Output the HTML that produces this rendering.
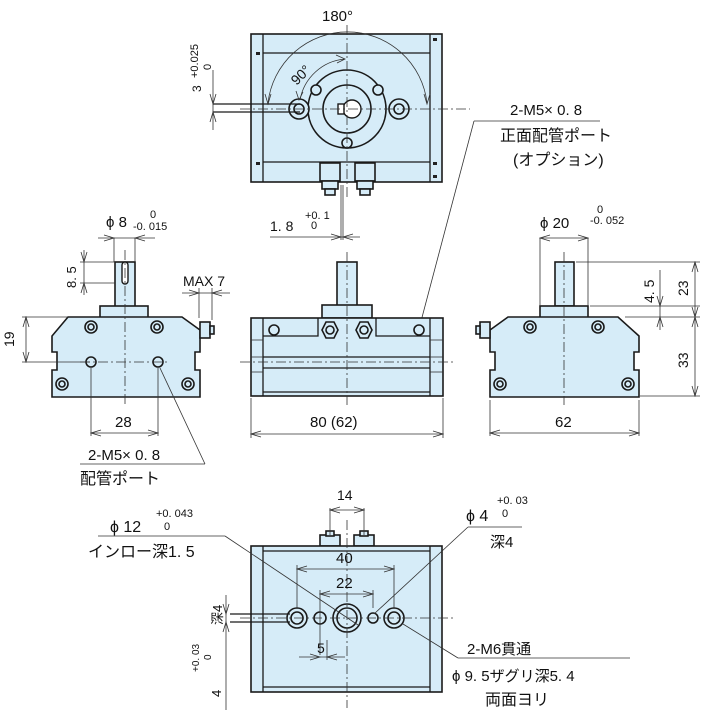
<!DOCTYPE html>
<html><head><meta charset="utf-8"><style>
html,body{margin:0;padding:0;background:#fff;}
svg{display:block;}
text{font-family:"Liberation Sans","Noto Sans CJK JP",sans-serif;fill:#111;}
.b{fill:#d6ecf8;stroke:#1a1a1a;stroke-width:1.6;}
.l{fill:none;stroke:#1a1a1a;stroke-width:1.3;}
.t{fill:none;stroke:#333;stroke-width:0.8;}
.d{fill:none;stroke:#333;stroke-width:0.8;marker-start:url(#a);marker-end:url(#a);}
.c{fill:none;stroke:#333;stroke-width:0.8;stroke-dasharray:10 3 2 3;}
.h{fill:#fff;stroke:#1a1a1a;stroke-width:1.4;}
</style></head><body>
<svg width="709" height="714" viewBox="0 0 709 714" xmlns="http://www.w3.org/2000/svg">
<defs>
<marker id="a" viewBox="-11 -4 12 8" refX="0" refY="0" markerWidth="12" markerHeight="8" orient="auto-start-reverse" markerUnits="userSpaceOnUse">
<path d="M-10,-3 L0,0 L-10,3" fill="none" stroke="#333" stroke-width="0.8"/></marker>
</defs>
<!-- ===== TOP VIEW ===== -->
<rect class="b" x="251" y="34" width="191" height="148"/>
<line class="l" x1="263" y1="34" x2="263" y2="182"/>
<line class="l" x1="430" y1="34" x2="430" y2="182"/>
<line class="l" x1="263" y1="53" x2="430" y2="53"/>
<line class="l" x1="263" y1="162" x2="430" y2="162"/>
<rect x="256" y="52" width="4" height="3" fill="#222"/><rect x="433" y="38" width="4" height="3" fill="#222"/>
<rect x="256" y="162" width="4" height="3" fill="#222"/><rect x="433" y="162" width="4" height="3" fill="#222"/>
<rect x="433" y="175" width="4" height="3" fill="#222"/>
<rect class="b" x="320" y="163" width="20" height="18"/><rect class="b" x="355" y="163" width="20" height="18"/>
<rect class="b" x="322" y="181" width="16" height="8"/><rect class="b" x="357" y="181" width="16" height="8"/>
<rect class="b" x="325" y="189" width="10" height="6"/><rect class="b" x="360" y="189" width="10" height="6"/>
<circle class="b" cx="347" cy="109" r="39"/>
<circle class="b" cx="347" cy="109" r="24"/>
<circle class="h" cx="352" cy="109" r="9"/>
<rect class="h" x="338" y="104" width="6" height="10"/>
<circle class="b" cx="299" cy="109" r="10"/><circle class="b" cx="299" cy="109" r="5"/>
<circle class="b" cx="399" cy="109" r="10"/><circle class="b" cx="399" cy="109" r="5"/>
<circle class="b" cx="316" cy="90" r="5"/><circle class="b" cx="378" cy="90" r="5"/><circle class="b" cx="347" cy="143" r="5"/>
<line class="c" x1="347" y1="25" x2="347" y2="200"/>
<line class="c" x1="240" y1="109" x2="470" y2="109"/>
<path class="t" d="M268,103 A80,80 0 0 1 427,103"/>
<path class="t" d="M300,100 A50,50 0 0 1 345,59"/>
<path class="t" d="M265,94 l3,10 l3,-10 M424,94 l3,10 l3,-10 M296,91 l3,9 l4,-8 M336,55 l9,4 l-8,4"/>
<text x="322" y="21" font-size="15">180°</text>
<text x="290" y="82" font-size="14" transform="rotate(-45 298 76)">90°</text>
<!-- 3 dimension -->
<line class="l" x1="213" y1="104" x2="300" y2="104"/><line class="l" x1="213" y1="112" x2="300" y2="112"/>
<line class="t" x1="213" y1="70" x2="213" y2="130"/>
<path class="t" d="M210,94 l3,10 l3,-10 M210,122 l3,-10 l3,10"/>
<text x="201" y="92" font-size="12" transform="rotate(-90 201 92)">3</text>
<text x="198" y="78" font-size="11" transform="rotate(-90 198 78)">+0.025</text>
<text x="211" y="70" font-size="11" transform="rotate(-90 211 70)">0</text>
<!-- 1.8 -->
<line class="t" x1="341" y1="185" x2="341" y2="240"/><line class="t" x1="343" y1="185" x2="343" y2="240"/>
<line class="t" x1="270" y1="237" x2="360" y2="237"/>
<path class="t" d="M331,234 l10,3 l-10,3 M353,234 l-10,3 l10,3"/>
<text x="270" y="231" font-size="14">1. 8</text>
<text x="305" y="219" font-size="11">+0. 1</text><text x="311" y="229" font-size="11">0</text>
<!-- Option leader -->
<line class="t" x1="474" y1="121" x2="600" y2="121"/>
<line class="t" x1="474" y1="121" x2="420" y2="325"/>
<text x="510" y="115" font-size="15">2-M5× 0. 8</text>
<text x="500" y="141" font-size="16">正面配管ポート</text>
<text x="513" y="165" font-size="16">(オプション)</text>

<!-- ===== LEFT SIDE ===== -->
<rect class="b" x="115" y="262" width="20" height="46"/>
<rect class="h" x="122" y="262" width="6" height="22" rx="3"/>
<rect class="b" x="100" y="306" width="48" height="12"/>
<path class="b" d="M68,317 L182,317 L200,330 L200,352 L195,352 L195,370 L200,370 L200,397 L52,397 L52,370 L57,370 L57,352 L52,352 L52,336 Z"/>
<rect class="b" x="200" y="322" width="10" height="16"/><rect class="b" x="210" y="326" width="4" height="8"/>
<circle class="b" cx="91" cy="327" r="6"/><circle class="b" cx="91" cy="327" r="3"/>
<circle class="b" cx="157" cy="327" r="6"/><circle class="b" cx="157" cy="327" r="3"/>
<circle class="b" cx="62" cy="384" r="6"/><circle class="b" cx="62" cy="384" r="3"/>
<circle class="b" cx="188" cy="384" r="6"/><circle class="b" cx="188" cy="384" r="3"/>
<circle class="b" cx="91" cy="362" r="5"/><circle class="b" cx="158" cy="362" r="5"/>
<line class="c" x1="125" y1="250" x2="125" y2="405"/>
<line class="c" x1="80" y1="362" x2="170" y2="362"/>
<line class="t" x1="114" y1="238" x2="114" y2="262"/><line class="t" x1="135" y1="238" x2="135" y2="262"/>
<line class="t" x1="98" y1="238" x2="155" y2="238"/>
<path class="t" d="M104,235 l10,3 l-10,3 M145,235 l-10,3 l10,3"/>
<text x="106" y="227" font-size="15">ϕ 8</text><text x="133" y="230" font-size="11">-0. 015</text><text x="150" y="218" font-size="11">0</text>
<line class="t" x1="80" y1="262" x2="115" y2="262"/><line class="t" x1="80" y1="283" x2="115" y2="283"/>
<line class="t" x1="84" y1="250" x2="84" y2="295"/>
<path class="t" d="M81,252 l3,10 l3,-10 M81,293 l3,-10 l3,10"/>
<text x="76" y="288" font-size="13" transform="rotate(-90 76 288)">8. 5</text>
<line class="t" x1="22" y1="317" x2="68" y2="317"/><line class="t" x1="22" y1="362" x2="90" y2="362"/>
<line class="d" x1="26" y1="317" x2="26" y2="362"/>
<text x="14" y="347" font-size="14" transform="rotate(-90 14 347)">19</text>
<line class="t" x1="199" y1="288" x2="199" y2="318"/><line class="t" x1="212" y1="288" x2="212" y2="320"/>
<line class="t" x1="182" y1="293" x2="230" y2="293"/>
<path class="t" d="M189,290 l10,3 l-10,3 M222,290 l-10,3 l10,3"/>
<text x="183" y="286" font-size="14">MAX 7</text>
<line class="t" x1="91" y1="368" x2="91" y2="436"/><line class="t" x1="158" y1="368" x2="158" y2="436"/>
<line class="d" x1="91" y1="433" x2="158" y2="433"/>
<text x="115" y="427" font-size="15">28</text>
<line class="t" x1="80" y1="464" x2="205" y2="464"/>
<line class="t" x1="160" y1="368" x2="205" y2="464"/>
<text x="88" y="460" font-size="15">2-M5× 0. 8</text>
<text x="80" y="484" font-size="16">配管ポート</text>

<!-- ===== FRONT VIEW ===== -->
<rect class="b" x="337" y="262" width="20" height="44"/>
<rect class="b" x="322" y="305" width="50" height="13"/>
<rect class="b" x="251" y="318" width="192" height="78"/>
<line class="l" x1="263" y1="318" x2="263" y2="396"/><line class="l" x1="430" y1="318" x2="430" y2="396"/>
<path class="l" d="M263,336 L318,336 L318,318 M376,318 L376,336 L430,336"/>
<line class="l" x1="263" y1="357" x2="430" y2="357"/><line class="l" x1="263" y1="368" x2="430" y2="368"/>
<line class="l" x1="263" y1="392" x2="430" y2="392"/>
<line class="t" x1="251" y1="340" x2="263" y2="340"/><line class="t" x1="251" y1="357" x2="263" y2="357"/><line class="t" x1="251" y1="372" x2="263" y2="372"/>
<line class="t" x1="430" y1="340" x2="443" y2="340"/><line class="t" x1="430" y1="357" x2="443" y2="357"/><line class="t" x1="430" y1="372" x2="443" y2="372"/>
<polygon class="b" points="322,330 326,322 334,322 338,330 334,338 326,338"/><circle class="b" cx="330" cy="330" r="4"/>
<polygon class="b" points="356,330 360,322 368,322 372,330 368,338 360,338"/><circle class="b" cx="364" cy="330" r="4"/>
<circle class="b" cx="274" cy="330" r="5"/><circle class="b" cx="419" cy="330" r="5"/>
<line class="c" x1="347" y1="252" x2="347" y2="405"/>
<line class="c" x1="240" y1="362" x2="455" y2="362"/>
<line class="t" x1="251" y1="398" x2="251" y2="438"/><line class="t" x1="443" y1="398" x2="443" y2="438"/>
<line class="d" x1="251" y1="434" x2="443" y2="434"/>
<text x="310" y="427" font-size="15">80 (62)</text>

<!-- ===== RIGHT SIDE ===== -->
<rect class="b" x="555" y="262" width="19" height="44"/>
<rect class="b" x="540" y="306" width="48" height="12"/>
<path class="b" d="M508,317 L618,317 L639,336 L639,352 L634,352 L634,370 L639,370 L639,397 L490,397 L490,370 L495,370 L495,352 L490,352 L490,330 Z"/>
<rect class="b" x="480" y="322" width="10" height="16"/><rect class="b" x="476" y="326" width="4" height="8"/>
<circle class="b" cx="530" cy="327" r="6"/><circle class="b" cx="530" cy="327" r="3"/>
<circle class="b" cx="598" cy="327" r="6"/><circle class="b" cx="598" cy="327" r="3"/>
<circle class="b" cx="500" cy="384" r="6"/><circle class="b" cx="500" cy="384" r="3"/>
<circle class="b" cx="628" cy="384" r="6"/><circle class="b" cx="628" cy="384" r="3"/>
<line class="c" x1="564" y1="252" x2="564" y2="405"/>
<line class="t" x1="540" y1="238" x2="540" y2="306"/><line class="t" x1="588" y1="238" x2="588" y2="306"/>
<line class="d" x1="540" y1="238" x2="588" y2="238"/>
<text x="540" y="228" font-size="15">ϕ 20</text><text x="590" y="224" font-size="11">-0. 052</text><text x="597" y="213" font-size="11">0</text>
<line class="t" x1="576" y1="262" x2="700" y2="262"/><line class="t" x1="590" y1="306" x2="700" y2="306"/>
<line class="t" x1="625" y1="317" x2="700" y2="317"/><line class="t" x1="640" y1="396" x2="700" y2="396"/>
<line class="t" x1="660" y1="270" x2="660" y2="330"/>
<path class="t" d="M657,296 l3,10 l3,-10 M657,327 l3,-10 l3,10"/>
<line class="d" x1="695" y1="262" x2="695" y2="317"/><line class="d" x1="695" y1="317" x2="695" y2="396"/>
<text x="654" y="303" font-size="14" transform="rotate(-90 654 303)">4. 5</text>
<text x="688" y="296" font-size="14" transform="rotate(-90 688 296)">23</text>
<text x="688" y="368" font-size="14" transform="rotate(-90 688 368)">33</text>
<line class="t" x1="490" y1="400" x2="490" y2="436"/><line class="t" x1="639" y1="400" x2="639" y2="436"/>
<line class="d" x1="490" y1="433" x2="639" y2="433"/>
<text x="555" y="427" font-size="15">62</text>

<!-- ===== BOTTOM VIEW ===== -->
<rect class="b" x="320" y="535" width="20" height="11"/><rect class="b" x="354" y="535" width="20" height="11"/>
<rect class="b" x="326" y="531" width="8" height="5"/><rect class="b" x="360" y="531" width="8" height="5"/>
<rect class="b" x="251" y="546" width="191" height="146"/>
<line class="l" x1="263" y1="546" x2="263" y2="692"/><line class="l" x1="430" y1="546" x2="430" y2="692"/>
<line class="l" x1="263" y1="551" x2="430" y2="551"/><line class="l" x1="263" y1="687" x2="430" y2="687"/>
<circle class="b" cx="297" cy="618" r="10"/><circle class="b" cx="297" cy="618" r="6"/>
<circle class="b" cx="320" cy="618" r="6"/>
<circle class="b" cx="347" cy="618" r="14"/><circle class="b" cx="347" cy="618" r="10"/>
<circle class="b" cx="373" cy="618" r="5"/>
<circle class="b" cx="394" cy="618" r="10"/><circle class="b" cx="394" cy="618" r="6"/>
<line class="c" x1="347" y1="520" x2="347" y2="708"/>
<line class="c" x1="240" y1="618" x2="455" y2="618"/>
<line class="l" x1="230" y1="614" x2="290" y2="614"/><line class="l" x1="230" y1="622" x2="290" y2="622"/>
<line class="t" x1="330" y1="508" x2="330" y2="535"/><line class="t" x1="364" y1="508" x2="364" y2="535"/>
<line class="d" x1="330" y1="510" x2="364" y2="510"/>
<text x="337" y="500" font-size="14">14</text>
<line class="t" x1="297" y1="565" x2="297" y2="608"/><line class="t" x1="394" y1="565" x2="394" y2="608"/>
<line class="d" x1="297" y1="569" x2="394" y2="569"/>
<text x="336" y="563" font-size="15">40</text>
<line class="t" x1="320" y1="590" x2="320" y2="655"/><line class="t" x1="373" y1="590" x2="373" y2="608"/>
<line class="d" x1="320" y1="594" x2="373" y2="594"/>
<text x="336" y="588" font-size="15">22</text>
<line class="t" x1="299" y1="657" x2="345" y2="657"/><line class="t" x1="327" y1="640" x2="327" y2="660"/>
<path class="t" d="M310,654 l10,3 l-10,3 M337,654 l-10,3 l10,3"/>
<text x="317" y="653" font-size="14">5</text>
<line class="t" x1="226" y1="595" x2="226" y2="710"/>
<path class="t" d="M223,604 l3,10 l3,-10 M223,632 l3,-10 l3,10"/>
<text x="222" y="625" font-size="13" transform="rotate(-90 222 625)">深4</text>
<text x="199" y="672" font-size="10" transform="rotate(-90 199 672)">+0. 03</text>
<text x="211" y="660" font-size="10" transform="rotate(-90 211 660)">0</text>
<text x="221" y="697" font-size="13" transform="rotate(-90 221 697)">4</text>
<line class="t" x1="98" y1="536" x2="225" y2="536"/>
<line class="t" x1="225" y1="536" x2="358" y2="625"/>
<text x="110" y="532" font-size="16">ϕ 12</text><text x="156" y="517" font-size="11">+0. 043</text><text x="164" y="530" font-size="11">0</text>
<text x="88" y="557" font-size="16">インロー深1. 5</text>
<line class="t" x1="468" y1="527" x2="522" y2="527"/>
<line class="t" x1="468" y1="527" x2="374" y2="614"/>
<text x="466" y="521" font-size="16">ϕ 4</text><text x="497" y="504" font-size="11">+0. 03</text><text x="502" y="517" font-size="11">0</text>
<text x="490" y="547" font-size="15">深4</text>
<line class="t" x1="458" y1="658" x2="630" y2="658"/>
<line class="t" x1="458" y1="658" x2="403" y2="624"/>
<text x="467" y="654" font-size="15">2-M6貫通</text>
<text x="452" y="681" font-size="15">ϕ 9. 5ザグリ深5. 4</text>
<text x="485" y="705" font-size="16">両面ヨリ</text>
</svg>
</body></html>
